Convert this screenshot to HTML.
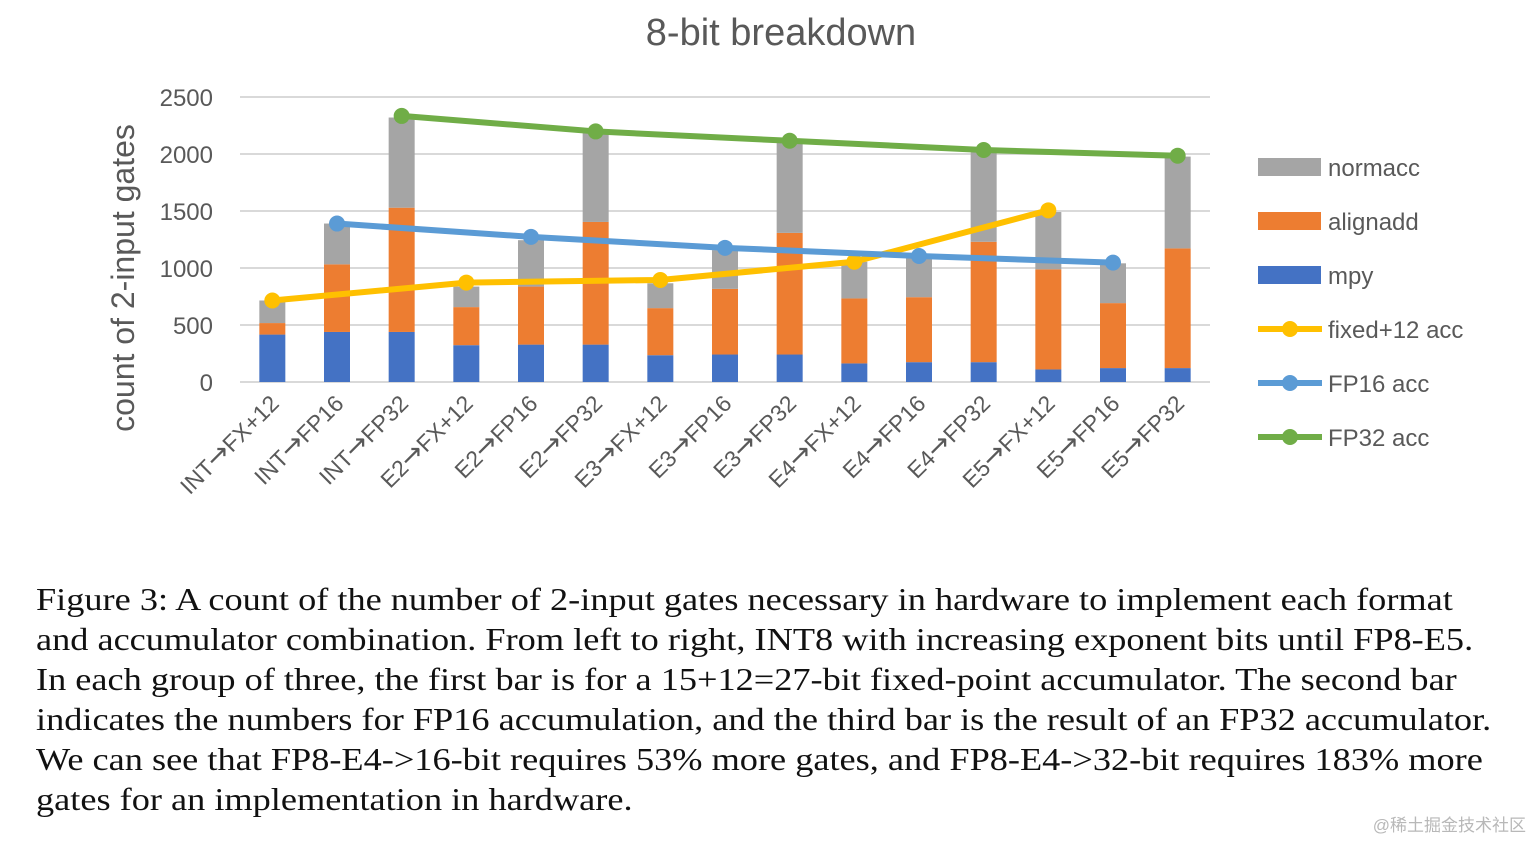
<!DOCTYPE html>
<html><head><meta charset="utf-8"><style>
body{margin:0;width:1534px;height:842px;background:#fff;overflow:hidden;position:relative}
.cap{position:absolute;left:36px;top:580px;font-family:"Liberation Serif",serif;font-size:31.5px;line-height:40px;color:#111;white-space:nowrap;transform:scaleX(1.152);transform-origin:0 0}
.wm{position:absolute;right:8px;bottom:6px;font-family:"Liberation Sans","Noto Sans CJK SC",sans-serif;font-size:17px;color:#b8b8b8}
</style></head><body>
<svg id="chart" width="1534" height="570" style="position:absolute;left:0;top:0" font-family="Liberation Sans, DejaVu Sans, sans-serif">
<text x="781" y="45" text-anchor="middle" font-size="38" fill="#595959">8-bit breakdown</text>
<text transform="translate(134,278) rotate(-90)" text-anchor="middle" font-size="32" fill="#595959">count of 2-input gates</text>
<g id="grid"></g><g id="bars"></g><g id="lines"></g><g id="xlab"></g><g id="legend"></g>
</svg>
<div class="cap">Figure 3: A count of the number of 2-input gates necessary in hardware to implement each format<br>and accumulator combination. From left to right, INT8 with increasing exponent bits until FP8-E5.<br>In each group of three, the first bar is for a 15+12=27-bit fixed-point accumulator. The second bar<br>indicates the numbers for FP16 accumulation, and the third bar is the result of an FP32 accumulator.<br>We can see that FP8-E4-&gt;16-bit requires 53% more gates, and FP8-E4-&gt;32-bit requires 183% more<br>gates for an implementation in hardware.</div>
<div class="wm">@稀土掘金技术社区</div>
<script>
const categories=["INT→FX+12","INT→FP16","INT→FP32","E2→FX+12","E2→FP16","E2→FP32","E3→FX+12","E3→FP16","E3→FP32","E4→FX+12","E4→FP16","E4→FP32","E5→FX+12","E5→FP16","E5→FP32"];
const mpy=[416,439,439,323,328,328,235,241,241,163,174,174,110,122,122];
const alignadd=[101,593,1090,334,509,1076,413,576,1067,570,570,1056,878,570,1050];
const normacc=[198,358,791,180,407,785,218,340,794,322,355,785,503,349,805];
const fixedIdx=[0,3,6,9,12];const fixedVals=[715,872,895,1055,1506];
const fp16Idx=[1,4,7,10,13];const fp16Vals=[1390,1273,1177,1105,1047];
const fp32Idx=[2,5,8,11,14];const fp32Vals=[2334,2198,2116,2035,1985];
const yTicks=[0,500,1000,1500,2000,2500];
const NS="http://www.w3.org/2000/svg";
const X0=240,X1=1210,Y0=382,Y1=97,YMAX=2500;
const band=(X1-X0)/categories.length;
const xc=i=>X0+band*(i+0.5);
const y=v=>Y0-(v/YMAX)*(Y0-Y1);
function mk(t,a,p){const e=document.createElementNS(NS,t);for(const k in a)e.setAttribute(k,a[k]);p.appendChild(e);return e;}
const grid=document.getElementById('grid');
yTicks.forEach(t=>{
 const l=mk('line',{x1:X0,x2:X1,y1:y(t),y2:y(t),stroke:'#d9d9d9','stroke-width':2},grid);
 
 
 const tx=mk('text',{x:213,y:y(t)+9,'text-anchor':'end','font-size':24,fill:'#595959'},grid);
 tx.textContent=t;
 
 
});
const bars=document.getElementById('bars');
const segs=[[mpy,'#4472c4','mpy'],[alignadd,'#ed7d31','alignadd'],[normacc,'#a5a5a5','normacc']];
categories.forEach((c,i)=>{
 let base=0;
 segs.forEach(([arr,col,nm])=>{
  const v=arr[i];
  const r=mk('rect',{x:xc(i)-13,width:26,y:y(base+v),height:y(base)-y(base+v),fill:col},bars);
  
  
  base+=v;
 });
 const t=mk('text',{transform:`translate(${xc(i)+8},${405}) rotate(-45)`,'text-anchor':'end','font-size':23,fill:'#595959'},document.getElementById('xlab'));
 const parts=c.split('→');
 const a=mk('tspan',{},t);a.textContent=parts[0];
 const ar=mk('tspan',{'font-family':'DejaVu Sans','font-size':27},t);ar.textContent='→';
 const b=mk('tspan',{},t);b.textContent=parts[1];
 
 
});
const lines=document.getElementById('lines');
[[fixedIdx,fixedVals,'#ffc000','fixed'],[fp16Idx,fp16Vals,'#5b9bd5','fp16'],[fp32Idx,fp32Vals,'#70ad47','fp32']].forEach(([ix,vs,col,nm])=>{
 const pts=ix.map((k,j)=>xc(k)+','+y(vs[j])).join(' ');
 const pl=mk('polyline',{points:pts,fill:'none',stroke:col,'stroke-width':6,'stroke-linejoin':'round'},lines);
 
 
 ix.forEach((k,j)=>{
  const c=mk('circle',{cx:xc(k),cy:y(vs[j]),r:8,fill:col},lines);
  
  
 });
});
const lg=document.getElementById('legend');
const items=[['normacc','#a5a5a5','bar'],['alignadd','#ed7d31','bar'],['mpy','#4472c4','bar'],['fixed+12 acc','#ffc000','line'],['FP16 acc','#5b9bd5','line'],['FP32 acc','#70ad47','line']];
items.forEach(([nm,col,kind],j)=>{
 const cy=167+54*j;
 const g=mk('g',{},lg);
 
 
 if(kind==='bar')mk('rect',{x:1258,y:cy-9,width:63,height:18,fill:col},g);
 else{mk('line',{x1:1258,x2:1322,y1:cy,y2:cy,stroke:col,'stroke-width':6},g);mk('circle',{cx:1290,cy:cy,r:8,fill:col},g);}
 const t=mk('text',{x:1328,y:cy+9,'font-size':24,fill:'#595959'},g);
 t.textContent=nm;
});
</script>
</body></html>
